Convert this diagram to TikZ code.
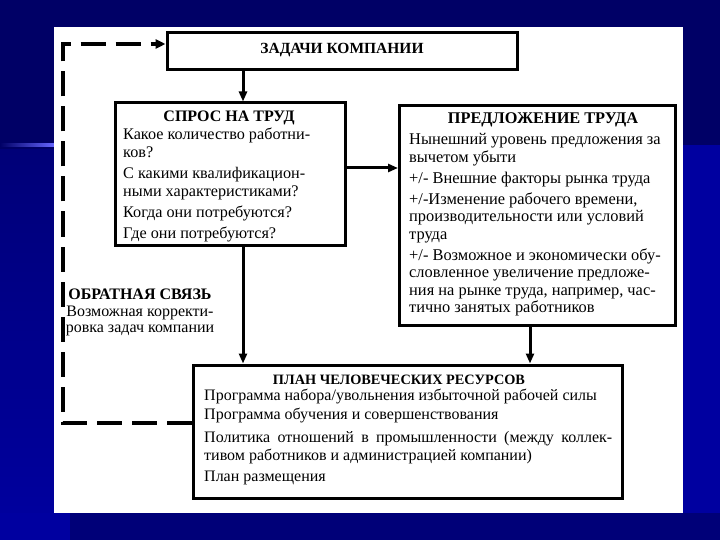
\documentclass[tikz,border=0pt]{standalone}
\usepackage{fontspec}
\setmainfont{Liberation Serif}
\usetikzlibrary{arrows.meta}
\definecolor{navy}{HTML}{000066}
\definecolor{navyb}{HTML}{0000A0}
\definecolor{navyc}{HTML}{000078}
\tikzset{
  box/.style={draw=black, line width=3pt, fill=white, inner sep=0pt},
  body/.style={inner sep=0pt, align=left, font=\fontsize{16}{18}\selectfont},
  ttl/.style={inner sep=0pt, font=\fontsize{15.5}{18}\selectfont\bfseries},
  conn/.style={line width=3pt, -{Triangle[length=10pt,width=8pt]}},
  fb/.style={line width=4pt, dash pattern=on 25pt off 10pt, -{Triangle[length=10pt,width=9pt]}}
}
\begin{document}
\begin{tikzpicture}[x=1pt,y=-1pt]
\useasboundingbox (0,0) rectangle (720,540);
% background
\fill[navy] (0,0) rectangle (720,540);
\fill[navyb] (683,145) rectangle (720,540);
\shade[top color=navyc, bottom color=navyb] (0,150) rectangle (54,540);
\fill[navyb] (0,513) rectangle (70,540);
\fill[navyc] (70,513) rectangle (720,540);
\shade[left color=navy, right color=blue!60!white] (0,144) rectangle (54,146.5);
\fill[white] (54,27) rectangle (683,513);
% boxes
\node[box, minimum width=350pt, minimum height=37pt] (tasks) at (342,51.5) {};
\node[ttl] (taskst) at (342,50) {ЗАДАЧИ КОМПАНИИ};
\node[box, minimum width=230pt, minimum height=142pt] (demand) at (230,174) {};
\node[box, minimum width=276pt, minimum height=219pt] (supply) at (537.5,215.5) {};
\node[box, minimum width=429pt, minimum height=133pt] (plan) at (407.5,431.5) {};
% titles
\node[ttl, font=\fontsize{16}{18}\selectfont\bfseries] (demandt) at (229,118) {СПРОС НА ТРУД};
\node[ttl, font=\fontsize{16.3}{18}\selectfont\bfseries] (supplyt) at (543,120) {ПРЕДЛОЖЕНИЕ ТРУДА};
\node[ttl, font=\fontsize{14.3}{18}\selectfont\bfseries] (plant) at (399,380) {ПЛАН ЧЕЛОВЕЧЕСКИХ РЕСУРСОВ};
% body texts
\node[body, anchor=north west, font=\fontsize{16.2}{18}\selectfont] (demandb) at (123,127.5) {Какое количество работни-\\ков?\\[3pt]С какими квалификацион-\\ными характеристиками?\\[3pt]Когда они потребуются?\\[3pt]Где они потребуются?};
\node[body, anchor=north west, font=\fontsize{16.4}{17.5}\selectfont] (supplyb) at (409,133.5) {Нынешний уровень предложения за\\вычетом убыти\\[3.5pt]+/- Внешние факторы рынка труда\\[3.5pt]+/-Изменение рабочего времени,\\производительности или условий\\труда\\[3.5pt]+/- Возможное и экономически обу-\\словленное увеличение предложе-\\ния на рынке труда, например, час-\\тично занятых работников};
\node[body, anchor=north west] (planb) at (204,388.5) {Программа набора/увольнения избыточной рабочей силы\\[1pt]Программа обучения и совершенствования\\[5pt]\makebox[408pt][s]{Политика отношений в промышленности (между коллек-}\\тивом работников и администрацией компании)\\[3pt]План размещения};
% feedback text
\node[body, align=center] (fbt) at (140,312) {\bfseries ОБРАТНАЯ СВЯЗЬ\\[-1pt]Возможная корректи-\\[-2pt]ровка задач компании};
% connectors
\draw[conn] (tasks.south -| 243,0) -- (demand.north -| 243,0);
\draw[conn] (demand.east |- 0,168) -- (supply.west |- 0,168);
\draw[conn] (demand.south -| 243,0) -- (plan.north -| 243,0);
\draw[conn] (supply.south -| 530,0) -- (plan.north -| 530,0);
\coordinate (fbl) at (63,423);
\draw[fb] (plan.west |- fbl) -- (fbl) -- (63,44) -- (tasks.west |- 0,44);
\end{tikzpicture}
\end{document}
